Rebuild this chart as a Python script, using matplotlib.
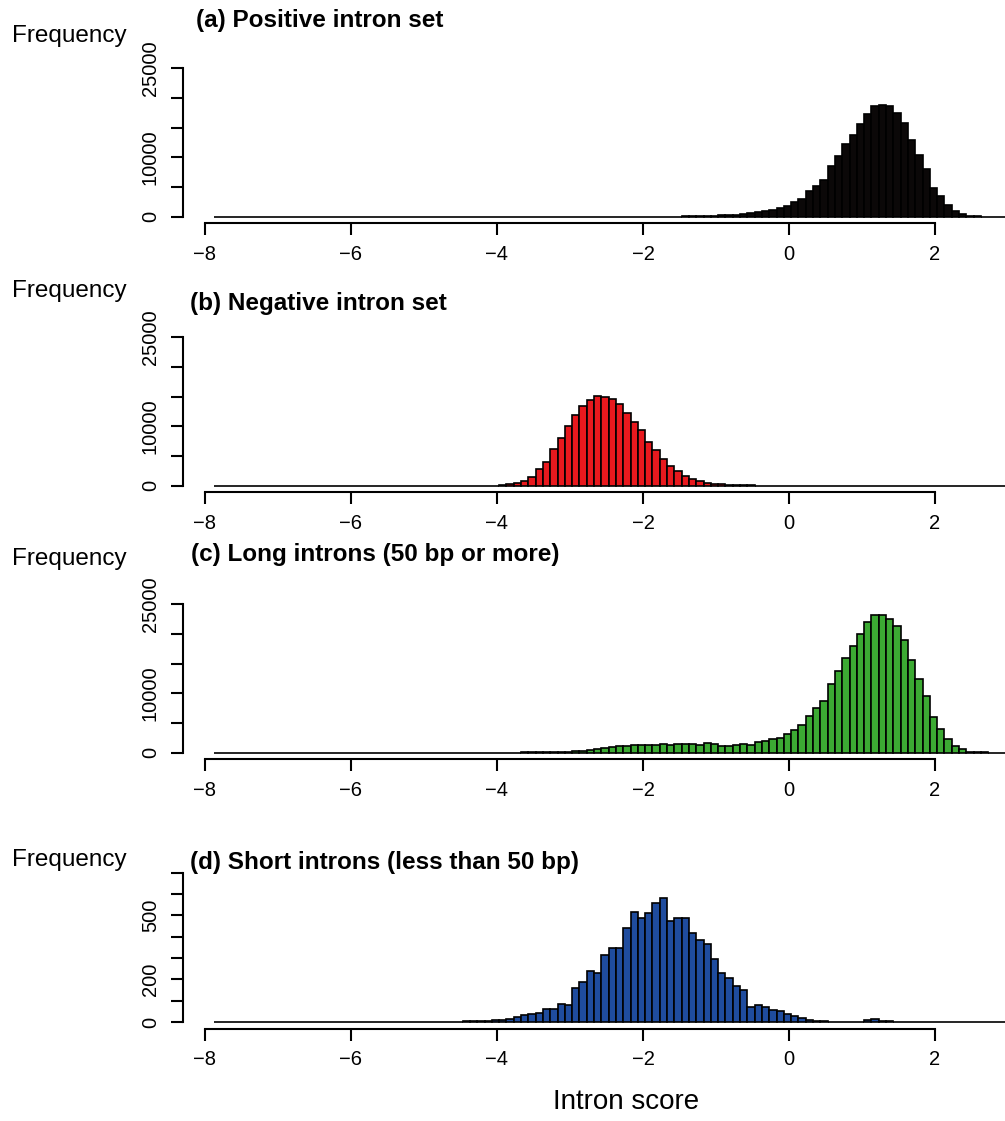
import numpy as np
import matplotlib
matplotlib.use('Agg')
import matplotlib.pyplot as plt

plt.rcParams['font.family'] = ['Liberation Sans', 'DejaVu Sans']

# histogram bins (width 0.1), counts
bin_width = 0.1
first_edge = -7.87
n_bins = 110

pos_start = -1.47
pos_counts = [40, 60, 90, 130, 200, 250, 310, 370, 450, 560, 730, 950, 1150, 1450, 1850,
              2400, 3000, 4400, 5100, 6200, 8600, 10200, 12300, 13800, 15700, 17250, 18600,
              18800, 18600, 17500, 15800, 12900, 10450, 8050, 4900, 3450, 2000, 950, 400,
              120, 50, 20, 10]

neg_start = -3.97
neg_counts = [60, 170, 340, 730, 1460, 2700, 3990, 6130, 8040, 10060, 11910, 13380, 14390,
              15060, 14840, 14560, 13710, 12250, 10730, 9330, 7360, 5960, 4440, 3370, 2470,
              1570, 1120, 790, 450, 280, 170, 100, 60, 30, 15]

long_start = -3.97
long_counts = [20, 25, 30, 35, 45, 50, 60, 70, 80, 110, 220, 340, 510, 620, 790, 960, 1070,
               1180, 1240, 1350, 1350, 1350, 1520, 1350, 1400, 1520, 1400, 1350, 1570, 1460,
               1180, 1120, 1350, 1400, 1350, 1740, 2020, 2250, 2470, 3150, 3820, 4610, 6180,
               7470, 8770, 11580, 13710, 15960, 18040, 19950, 21970, 23210, 23210, 22540,
               21410, 19000, 15620, 12480, 9610, 5960, 3930, 2250, 1180, 560, 170, 80, 40,
               20, 10]

short_start = -5.07
short_counts = [1, 0, 2, 1, 2, 2, 3, 3, 4, 6, 11, 11, 14, 23, 31, 36, 42, 59, 59, 86, 78, 161,
                188, 239, 232, 316, 349, 349, 441, 516, 488, 513, 559, 582, 473, 490, 490,
                418, 383, 365, 296, 230, 207, 167, 149, 70, 78, 70, 55, 52, 39, 28, 17, 8, 5,
                3, 2, 1, 2, 1, 2, 10, 14, 6, 6, 1]

titles = ['(a) Positive intron set', '(b) Negative intron set',
          '(c) Long introns (50 bp or more)', '(d) Short introns (less than 50 bp)']
colors = ['#0b0808', '#e8191e', '#3caa33', '#1f4c9e']

big_ticks = [0, 5000, 10000, 15000, 20000, 25000]
big_labels = ['0', '', '10000', '', '', '25000']
small_ticks = [0, 100, 200, 300, 400, 500, 600, 700]
small_labels = ['0', '', '200', '', '', '500', '', '']
x_ticks = [-8, -6, -4, -2, 0, 2]
x_labels = ['\u22128', '\u22126', '\u22124', '\u22122', '0', '2']

edges = first_edge + bin_width * np.arange(n_bins)


def full_counts(start, counts):
    out = np.zeros(n_bins)
    i0 = int(round((start - first_edge) / bin_width))
    out[i0:i0 + len(counts)] = counts
    return out


W, H = 1005, 1121
fig = plt.figure(figsize=(W / 100, H / 100), dpi=100)

left_px = 182.7
x_left, x_right = -8.305, 2.959
gap_px = 6.6

panels = [
    (pos_start, pos_counts, 216.7, 29.65 / 5000, 26000, big_ticks, big_labels),
    (neg_start, neg_counts, 485.5, 29.65 / 5000, 26000, big_ticks, big_labels),
    (long_start, long_counts, 752.7, 29.65 / 5000, 26000, big_ticks, big_labels),
    (short_start, short_counts, 1022.0, 21.3 / 100, 740, small_ticks, small_labels),
]

for i, (start, counts, zero_px, px_per, ymax, yt, yl) in enumerate(panels):
    ylo = -gap_px / px_per
    bottom_px = zero_px + gap_px
    top_px = zero_px - ymax * px_per
    ax = fig.add_axes([left_px / W, 1 - bottom_px / H, (W - left_px) / W,
                       (bottom_px - top_px) / H])
    ax.bar(edges, full_counts(start, counts), width=bin_width, align='edge',
           color=colors[i], edgecolor='black', linewidth=1.2)
    ax.set_xlim(x_left, x_right)
    ax.set_ylim(ylo, ymax)
    for s in ['top', 'right']:
        ax.spines[s].set_visible(False)
    ax.spines['left'].set_bounds(yt[0], yt[-1])
    ax.spines['bottom'].set_bounds(-8, 2)
    for s in ['left', 'bottom']:
        ax.spines[s].set_linewidth(1.5)
    ax.set_yticks(yt, labels=yl)
    ax.set_xticks(x_ticks, labels=x_labels)
    ax.tick_params(direction='out', length=8.5, width=1.5, labelsize=14.5)
    ax.tick_params(axis='y', pad=8)
    ax.tick_params(axis='x', pad=7)
    for lab in ax.get_yticklabels():
        lab.set_rotation(90)
        lab.set_va('center')
    ax.patch.set_alpha(0)

freq_y = [42, 297, 565, 866]
title_y = [27, 310, 561, 869]
title_x = [196, 190, 191, 190]
for i in range(4):
    fig.text(12 / W, 1 - freq_y[i] / H, 'Frequency', fontsize=17.5, va='baseline')
    fig.text(title_x[i] / W, 1 - title_y[i] / H, titles[i], fontsize=17.5,
             fontweight='bold', va='baseline')

fig.text(626 / W, 1 - 1109 / H, 'Intron score', fontsize=20, ha='center', va='baseline')

fig.savefig('out.png', dpi=100)
